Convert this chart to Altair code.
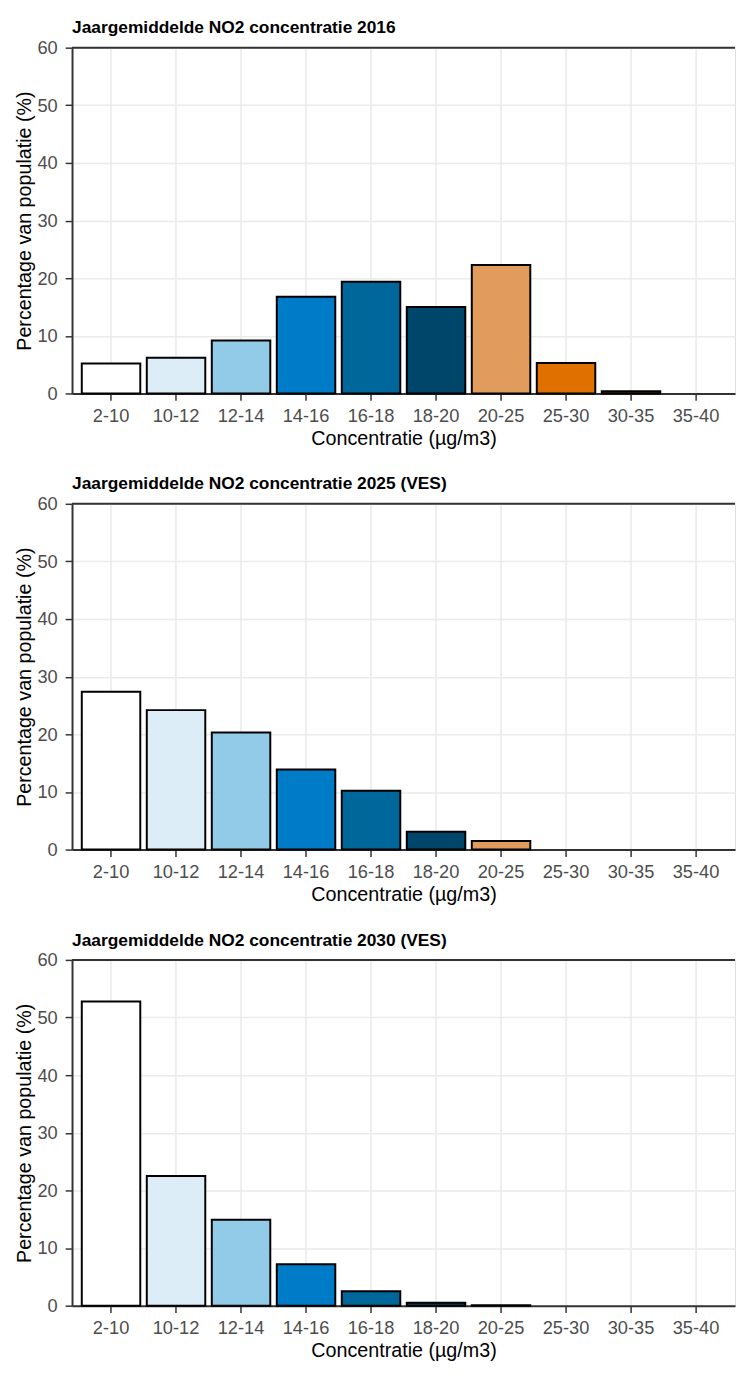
import altair as alt
import pandas as pd

categories = ["2-10", "10-12", "12-14", "14-16", "16-18", "18-20", "20-25", "25-30", "30-35", "35-40"]
colors = ["#FFFFFF", "#DCEDF8", "#91CBE7", "#007BC7", "#00679A", "#00456A", "#E19B5C", "#E07000", "#A33A14", "#7A1A0A"]

v2016 = [5.2, 6.2, 9.2, 16.8, 19.4, 15.0, 22.3, 5.3, 0.4, 0.0]
v2025 = [27.4, 24.2, 20.3, 13.9, 10.2, 3.1, 1.5, 0.0, 0.0, 0.0]
v2030 = [52.8, 22.5, 14.9, 7.2, 2.5, 0.5, 0.1, 0.0, 0.0, 0.0]

titles = [
    "Jaargemiddelde NO2 concentratie 2016",
    "Jaargemiddelde NO2 concentratie 2025 (VES)",
    "Jaargemiddelde NO2 concentratie 2030 (VES)",
]
y_ticks = list(range(0, 61, 5))
y_top = [60]

FONT = "Liberation Sans"


def panel(vals, title):
    df = pd.DataFrame({"cat": categories, "pct": vals})
    bars = alt.Chart(df).transform_filter("datum.pct > 0").mark_bar(
        stroke="black", strokeWidth=2
    ).encode(
        x=alt.X(
            "cat:N",
            sort=categories,
            title="Concentratie (µg/m3)",
            scale=alt.Scale(domain=categories, paddingInner=0.1, paddingOuter=0.15),
            axis=alt.Axis(
                labelAngle=0, labelFontSize=18.5, labelColor="#4D4D4D", labelFont=FONT,
                labelPadding=6, tickSize=7, tickWidth=1.5, tickColor="#333333",
                domainColor="#333333", domainWidth=2,
                grid=True, gridColor="#EBEBEB", gridWidth=1.6, bandPosition=0.5,
                titleFontSize=20, titleFontWeight="normal", titleColor="black",
                titleFont=FONT, titlePadding=4,
            ),
        ),
        y=alt.Y(
            "pct:Q",
            title="Percentage van populatie (%)",
            scale=alt.Scale(domain=[0, 60], nice=False),
            axis=alt.Axis(
                values=y_ticks,
                labelExpr="datum.value % 10 == 0 ? datum.label : ''",
                labelFontSize=18.5, labelColor="#4D4D4D", labelFont=FONT, labelPadding=8,
                tickSize=7, tickWidth=1.5, tickColor="#333333",
                tickOpacity=alt.condition("datum.value % 10 == 0", alt.value(1), alt.value(0)),
                domainColor="#333333", domainWidth=2,
                grid=True, gridColor="#EBEBEB",
                gridWidth=alt.condition("datum.value % 10 == 0", alt.value(1.6), alt.value(1.0)),
                titleFontSize=20, titleFontWeight="normal", titleColor="black",
                titleFont=FONT, titlePadding=3,
            ),
        ),
        color=alt.Color("cat:N", scale=alt.Scale(domain=categories, range=colors), legend=None),
    )
    top = alt.Chart(pd.DataFrame({"v": y_top})).mark_rule(color="#333333", strokeWidth=2).encode(
        y=alt.Y("v:Q")
    )
    return alt.layer(bars, top).properties(
        width=673,
        height=351,
        title=alt.TitleParams(
            title, anchor="start", frame="group", fontSize=17.6, fontWeight="bold",
            font=FONT, color="black", offset=2,
        ),
    )


chart = alt.vconcat(
    panel(v2016, titles[0]),
    panel(v2025, titles[1]),
    panel(v2030, titles[2]),
    spacing=26,
).properties(
    padding={"left": 5, "top": 0, "right": 0, "bottom": 0},
).configure_view(stroke=None).configure(font=FONT)

chart.save("out.html", embed_options={"renderer": "svg", "actions": False})
